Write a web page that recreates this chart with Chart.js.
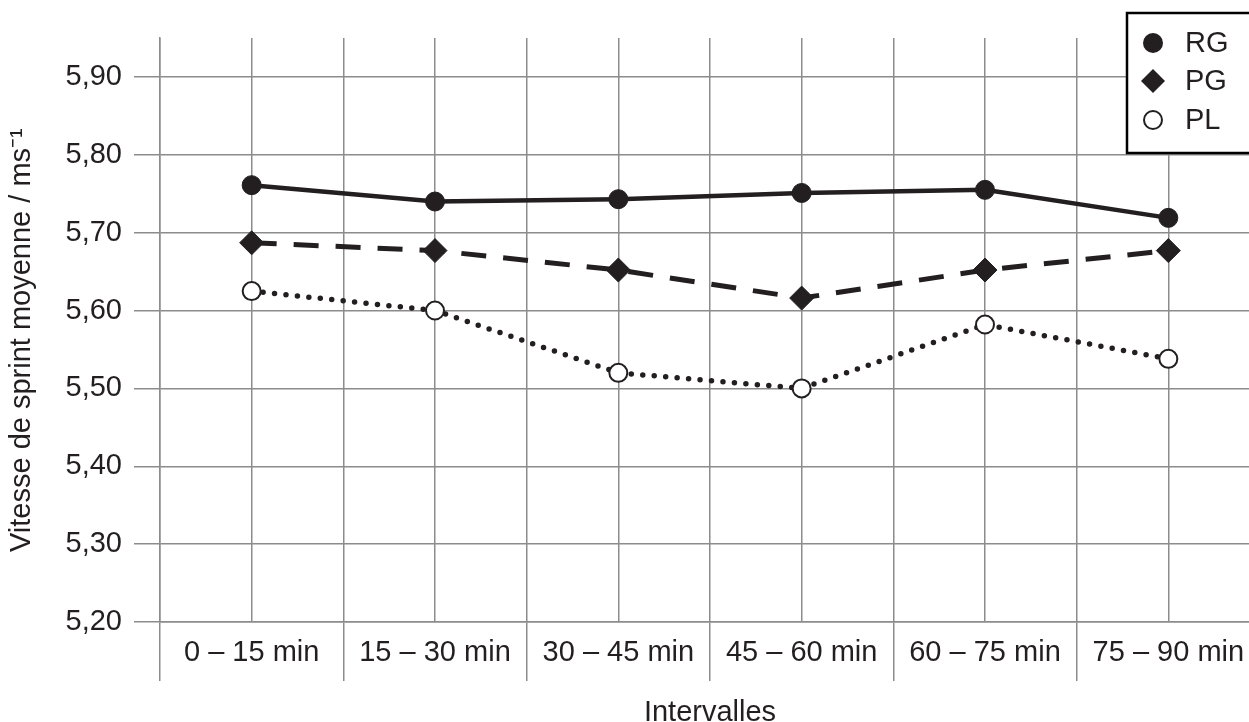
<!DOCTYPE html>
<html lang="fr">
<head>
<meta charset="utf-8">
<title>Vitesse de sprint moyenne</title>
<script src="https://cdn.jsdelivr.net/npm/chart.js@4/dist/chart.umd.min.js"></script>
<style>
    html, body { margin: 0; padding: 0; background: #fff; overflow: hidden; }
    #wrap { width: 1260px; height: 722px; }
</style>
</head>
<body>
<div id="wrap"><canvas id="sprintChart" width="1260" height="722"></canvas></div>
<script>
// Données
const intervalles = ['0 – 15 min', '15 – 30 min', '30 – 45 min', '45 – 60 min', '60 – 75 min', '75 – 90 min'];
const valeursRG = [5.761, 5.740, 5.743, 5.751, 5.755, 5.719];
const valeursPG = [5.687, 5.677, 5.652, 5.616, 5.652, 5.677];
const valeursPL = [5.625, 5.600, 5.520, 5.500, 5.582, 5.538];
const graduationsY = [5.20, 5.30, 5.40, 5.50, 5.60, 5.70, 5.80, 5.90];

const encre = '#231f20';
const grille = '#8c8c8c';
const police = "'Liberation Sans', Arial, sans-serif";

// Légende encadrée dans le coin supérieur droit (coupée par le bord comme l'original)
const legendeEncadree = {
    id: 'legendeEncadree',
    afterDraw(chart) {
        const ctx = chart.ctx;
        ctx.save();
        ctx.fillStyle = '#fff';
        ctx.strokeStyle = '#000';
        ctx.lineWidth = 2.5;
        ctx.fillRect(1127, 13, 160, 140);
        ctx.strokeRect(1127, 13, 160, 140);

        const items = [
            { texte: 'RG', y: 43, forme: 'rond', plein: true },
            { texte: 'PG', y: 81, forme: 'losange', plein: true },
            { texte: 'PL', y: 120, forme: 'rond', plein: false }
        ];
        items.forEach(item => {
            ctx.beginPath();
            if (item.forme === 'rond') {
                ctx.arc(1153, item.y, item.plein ? 10 : 9, 0, Math.PI * 2);
            } else {
                ctx.moveTo(1153, item.y - 12);
                ctx.lineTo(1165, item.y);
                ctx.lineTo(1153, item.y + 12);
                ctx.lineTo(1141, item.y);
                ctx.closePath();
            }
            if (item.plein) {
                ctx.fillStyle = encre;
                ctx.fill();
            } else {
                ctx.fillStyle = '#fff';
                ctx.fill();
                ctx.lineWidth = 2;
                ctx.strokeStyle = encre;
                ctx.stroke();
            }
            ctx.fillStyle = encre;
            ctx.font = '29px ' + police;
            ctx.textBaseline = 'middle';
            ctx.textAlign = 'left';
            ctx.fillText(item.texte, 1185, item.y + 1);
        });
        ctx.restore();
    }
};

const ctxSprint = document.getElementById('sprintChart').getContext('2d');
const sprintChart = new Chart(ctxSprint, {
    type: 'line',
    data: {
        labels: intervalles,
        datasets: [
            {
                label: 'RG',
                data: valeursRG,
                borderColor: encre,
                borderWidth: 4.5,
                pointStyle: 'circle',
                pointRadius: 9.5,
                pointBackgroundColor: encre,
                pointBorderColor: encre,
                pointBorderWidth: 1
            },
            {
                label: 'PG',
                data: valeursPG,
                borderColor: encre,
                borderWidth: 5,
                borderDash: [25, 17],
                pointStyle: 'rectRot',
                pointRadius: 12,
                pointBackgroundColor: encre,
                pointBorderColor: encre,
                pointBorderWidth: 1
            },
            {
                label: 'PL',
                data: valeursPL,
                borderColor: encre,
                borderWidth: 5.5,
                borderDash: [0, 11.5],
                borderCapStyle: 'round',
                pointStyle: 'circle',
                pointRadius: 9,
                pointBackgroundColor: '#fff',
                pointBorderColor: encre,
                pointBorderWidth: 2
            }
        ]
    },
    options: {
        responsive: false,
        animation: false,
        layout: {
            autoPadding: false,
            padding: { top: 38, right: 0, bottom: 0, left: 0 }
        },
        plugins: {
            legend: { display: false },
            tooltip: { enabled: false }
        },
        scales: {
            x: {
                type: 'category',
                position: 'bottom',
                offset: true,
                grid: {
                    offset: true,
                    color: grille,
                    lineWidth: 1.5,
                    tickLength: 59,
                    tickColor: grille
                },
                border: { display: true, color: grille, width: 1.5 },
                ticks: {
                    color: encre,
                    font: { family: police, size: 29 },
                    padding: -45,
                    maxRotation: 0,
                    autoSkip: false
                },
                title: {
                    display: true,
                    text: 'Intervalles',
                    color: encre,
                    font: { family: police, size: 29 },
                    padding: { top: 20, bottom: -8 }
                },
                afterFit: scale => { scale.height = 100; }
            },
            x2: {
                type: 'category',
                position: 'top',
                labels: intervalles,
                offset: true,
                display: true,
                grid: {
                    offset: false,
                    color: grille,
                    lineWidth: 1.5,
                    drawTicks: false
                },
                border: { display: false },
                ticks: { display: false },
                afterFit: scale => { scale.height = 0; }
            },
            y: {
                type: 'linear',
                min: 5.20,
                max: 5.95,
                afterBuildTicks: scale => {
                    scale.ticks = graduationsY.map(v => ({ value: v }));
                },
                grid: {
                    color: grille,
                    lineWidth: 1.5,
                    tickLength: 26,
                    tickColor: grille
                },
                border: { display: true, color: grille, width: 1.5 },
                ticks: {
                    color: encre,
                    font: { family: police, size: 29 },
                    padding: 12,
                    callback: value => Number(value).toFixed(2).replace('.', ',')
                },
                title: {
                    display: true,
                    text: 'Vitesse de sprint moyenne / ms⁻¹\u2002\u2009',
                    color: encre,
                    font: { family: police, size: 29 },
                    padding: { top: 5, bottom: 0 }
                },
                afterFit: scale => { scale.width = 160; }
            }
        }
    },
    plugins: [legendeEncadree]
});
</script>
</body>
</html>
